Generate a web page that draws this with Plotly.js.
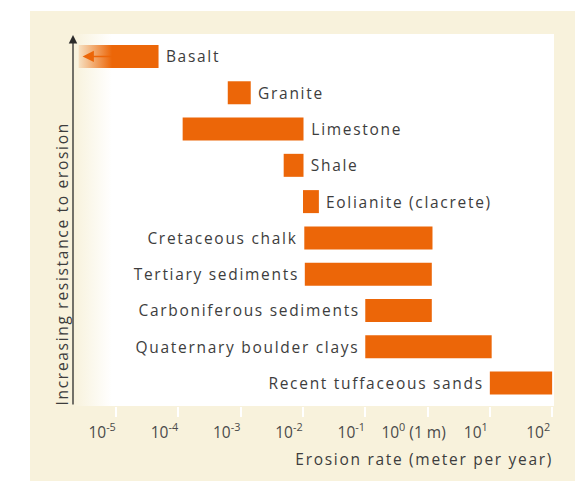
<!DOCTYPE html>
<html>
<head>
<meta charset="utf-8">
<script src="https://cdn.plot.ly/plotly-3.0.1.min.js"></script>
<style>
  html, body { margin: 0; padding: 0; background: #ffffff; }
  #chart { width: 575px; height: 481px; }
  .annotation .annotation-text { letter-spacing: 1.7px; }
</style>
</head>
<body>
<div id="chart"></div>
<script>
// ---- data ----
const rocks = ['Basalt', 'Granite', 'Limestone', 'Shale', 'Eolianite (clacrete)',
  'Cretaceous chalk', 'Tertiary sediments', 'Carboniferous sediments',
  'Quaternary boulder clays', 'Recent tuffaceous sands'];
// erosion rate range, metres per year
const rateLow  = [2.5e-6, 6.2e-4, 1.17e-4, 4.9e-3, 1.0e-2, 1.05e-2, 1.07e-2, 0.1, 0.1, 10];
const rateHigh = [4.8e-5, 1.45e-3, 1.02e-2, 1.02e-2, 1.8e-2, 1.2, 1.17, 1.17, 10.7, 100];
const labelSide = ['right', 'right', 'right', 'right', 'right', 'left', 'left', 'left', 'left', 'left'];
const tickVals = [1e-5, 1e-4, 1e-3, 1e-2, 1e-1, 1, 10, 100];
const tickText = ['10<sup>-5</sup>', '10<sup>-4</sup>', '10<sup>-3</sup>', '10<sup>-2</sup>',
  '10<sup>-1</sup>', '10<sup>0</sup> (1 m)', '10<sup>1</sup>', '10<sup>2</sup>'];
const xTitle = 'Erosion rate (meter per year)';
const yTitle = 'Increasing resistance to erosion';

// ---- style ----
const ORANGE = '#ec6608';
const CREAM = '#f8f2dc';
const TXT = '#3d3d3d';
const FONT = '"Open Sans", "DejaVu Sans", sans-serif';
const LS = 1.7; // letter spacing applied by CSS (not measured by Plotly)
const halfExtra = s => s.length * LS / 2;

const W = 575, H = 481;
const M = {l: 75, r: 21, t: 34, b: 75};
const PW = W - M.l - M.r, PH = H - M.t - M.b;
const px2x = p => (p - M.l) / PW;
const py2y = p => (H - M.b - p) / PH;

const trace = {
  type: 'bar',
  orientation: 'h',
  y: rocks,
  base: rateLow,
  x: rateHigh.map((h, i) => h - rateLow[i]),
  width: 0.634,
  marker: {color: ORANGE, line: {width: 0}},
  hoverinfo: 'none'
};

const annotations = rocks.map((r, i) => ({
  xref: 'x', yref: 'y',
  x: Math.log10(labelSide[i] === 'right' ? rateHigh[i] : rateLow[i]),
  y: r,
  text: r,
  showarrow: false,
  xanchor: labelSide[i] === 'right' ? 'left' : 'right',
  xshift: labelSide[i] === 'right' ? 5.5 + halfExtra(r) : -4 - halfExtra(r),
  font: {family: FONT, size: 15.5, color: TXT}
}));

// left-pointing arrow on the Basalt bar
annotations.push({
  xref: 'x', yref: 'y', x: Math.log10(2.9e-6), y: rocks[0],
  text: '', showarrow: true, axref: 'pixel', ayref: 'pixel', ax: 31, ay: 0,
  arrowhead: 2, arrowsize: 1.5, arrowwidth: 1.5, arrowcolor: ORANGE, standoff: 0
});
// vertical resistance arrow
annotations.push({
  xref: 'paper', yref: 'paper', x: px2x(73), y: py2y(35),
  text: '', showarrow: true, axref: 'pixel', ayref: 'pixel', ax: 0, ay: 371,
  arrowhead: 2, arrowsize: 1.3, arrowwidth: 1.3, arrowcolor: '#2b2b2b', standoff: 0
});
// y title (rotated)
annotations.push({
  xref: 'paper', yref: 'paper', x: px2x(62), y: py2y(406),
  xanchor: 'center', yanchor: 'bottom', textangle: -90,
  yshift: halfExtra(yTitle) - 2,
  text: yTitle, showarrow: false,
  font: {family: FONT, size: 15.5, color: TXT}
});
// x title
annotations.push({
  xref: 'paper', yref: 'paper', x: px2x(555), y: py2y(459),
  xanchor: 'right', yanchor: 'middle',
  xshift: -halfExtra(xTitle),
  text: xTitle, showarrow: false,
  font: {family: FONT, size: 15.5, color: TXT}
});

const gradSvg = "<svg xmlns='http://www.w3.org/2000/svg' width='100' height='100' viewBox='0 0 100 100' preserveAspectRatio='none'>" +
  "<defs><linearGradient id='g' x1='0' x2='1' y1='0' y2='0'>" +
  "<stop offset='0' stop-color='" + CREAM + "' stop-opacity='1'/>" +
  "<stop offset='1' stop-color='" + CREAM + "' stop-opacity='0'/>" +
  "</linearGradient></defs><rect x='0' y='0' width='100' height='100' fill='url(#g)'/></svg>";

const layout = {
  width: W, height: H,
  margin: M,
  paper_bgcolor: '#ffffff',
  plot_bgcolor: 'rgba(0,0,0,0)',
  showlegend: false,
  font: {family: FONT, color: TXT},
  xaxis: {
    type: 'log',
    range: [-5.66, 2.03],
    tickmode: 'array', tickvals: tickVals, ticktext: tickText,
    ticks: 'outside', ticklen: 10, tickwidth: 2, tickcolor: '#ffffff',
    ticklabelshift: -14, ticklabelstandoff: 2,
    tickfont: {family: FONT, size: 15.5, color: '#4a4a4a'},
    showgrid: false, zeroline: false, showline: false,
    fixedrange: true
  },
  yaxis: {
    type: 'category',
    categoryarray: rocks,
    range: [9.634, -0.62],
    showticklabels: false, ticks: '',
    showgrid: false, zeroline: false, showline: false,
    fixedrange: true
  },
  shapes: [
    {type: 'rect', xref: 'paper', yref: 'paper', layer: 'below',
     x0: px2x(30), x1: px2x(580), y0: py2y(11), y1: py2y(490),
     fillcolor: CREAM, line: {width: 0}},
    {type: 'rect', xref: 'paper', yref: 'paper', layer: 'below',
     x0: 0, x1: 1, y0: 0, y1: 1,
     fillcolor: '#ffffff', line: {width: 0}}
  ],
  images: [{
    source: 'data:image/svg+xml;charset=utf-8,' + encodeURIComponent(gradSvg),
    xref: 'paper', yref: 'paper',
    x: px2x(74), y: 1, sizex: px2x(112) - px2x(74), sizey: 1,
    xanchor: 'left', yanchor: 'top', sizing: 'stretch', layer: 'above'
  }],
  annotations: annotations
};

Plotly.newPlot('chart', [trace], layout, {displayModeBar: false, staticPlot: true});
</script>
</body>
</html>
